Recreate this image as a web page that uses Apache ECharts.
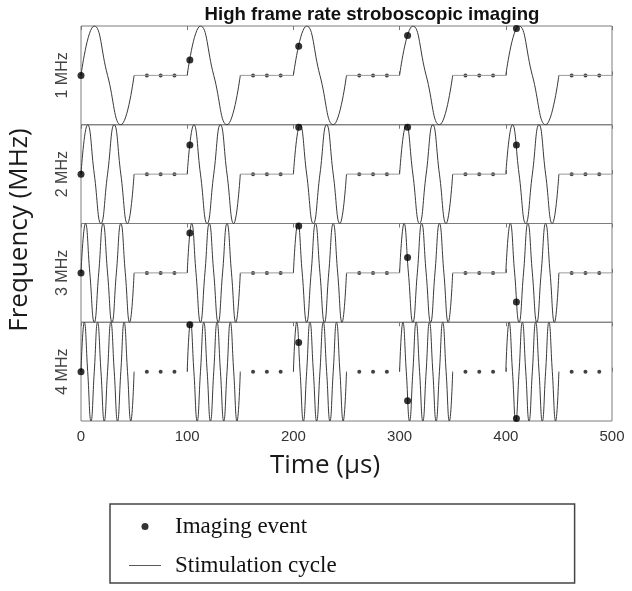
<!DOCTYPE html>
<html>
<head>
<meta charset="utf-8">
<title>High frame rate stroboscopic imaging</title>
<script src="https://cdn.jsdelivr.net/npm/echarts@6/dist/echarts.min.js"></script>
<style>
  html, body { margin: 0; padding: 0; background: #fff; }
  #chart { width: 632px; height: 591px; }
</style>
</head>
<body>
<div id="chart"></div>
<script>
// time axis (µs)
const timeTicks = [0, 100, 200, 300, 400, 500];
const panelLabels = ['1 MHz', '2 MHz', '3 MHz', '4 MHz'];

// stimulation bursts start every 100 µs
const burstStarts = [0, 100, 200, 300, 400];

// one burst per panel: [time offset (µs), amplitude], zero crossings and peaks
const burst1MHz = [[0, 0], [12.5, 1], [25, 0], [37.5, -1], [50, 0]];
const burst2MHz = [[0, 0], [6.25, 1], [12.5, 0], [18.75, -1], [25, 0], [31.25, 1], [37.5, 0], [43.75, -1], [50, 0]];
const burst3MHz = [[0, 0], [4.2, 1], [8.3, 0], [12.5, -1], [16.7, 0], [20.8, 1], [25, 0], [29.2, -1],
  [33.3, 0], [37.5, 1], [41.7, 0], [45.8, -1], [50, 0]];
const burst4MHz = [[0, 0], [3.1, 1], [6.3, 0], [9.4, -1], [12.5, 0], [15.6, 1], [18.8, 0], [21.9, -1],
  [25, 0], [28.1, 1], [31.3, 0], [34.4, -1], [37.5, 0], [40.6, 1], [43.8, 0], [46.9, -1], [50, 0]];

// rest between bursts (offsets from burst start); the 4 MHz panel has none
const restLine = [[50, 0], [100, 0]];
const hasRestLine = [true, true, true, false];
// the "..." marks in each rest period
const ellipsisTimes = [62, 75, 88];

// imaging events (µs) and where they hit each waveform
const eventTimes = [0, 102.5, 205, 307.5, 410];
const events1MHz = [0, 0.31, 0.59, 0.81, 0.95];
const events2MHz = [0, 0.59, 0.95, 0.95, 0.59];
const events3MHz = [0, 0.81, 0.95, 0.31, -0.59];
const events4MHz = [0, 0.95, 0.59, -0.59, -0.95];

const bursts = [burst1MHz, burst2MHz, burst3MHz, burst4MHz];
const events = [events1MHz, events2MHz, events3MHz, events4MHz];

const chart = echarts.init(document.getElementById('chart'));

const panelTop = [26, 124.75, 223.5, 322.25];
const panelHeight = 98.75;
const tickStyle = { show: true, inside: true, length: 4, lineStyle: { color: '#777', width: 1 } };

function repeat(shape) {
  let out = [];
  burstStarts.forEach(s => {
    shape.forEach(p => out.push([s + p[0], p[1]]));
    out.push(['-', '-']);
  });
  return out;
}

let grid = [], xAxis = [], yAxis = [], series = [];
panelLabels.forEach((label, i) => {
  grid.push({
    left: 81, right: 20, top: panelTop[i], height: panelHeight,
    show: true, borderColor: '#7d7d7d', borderWidth: 1
  });
  // bottom axis (labels only on the last panel)
  xAxis.push({
    type: 'value', gridIndex: i, min: timeTicks[0], max: timeTicks[timeTicks.length - 1],
    interval: timeTicks[1] - timeTicks[0],
    axisLine: { show: false }, axisTick: tickStyle, splitLine: { show: false },
    axisLabel: {
      show: i === 3, margin: 8, color: '#333', fontSize: 15, fontFamily: 'Liberation Sans'
    }
  });
  yAxis.push({
    type: 'value', gridIndex: i, min: -1, max: 1,
    name: label, nameLocation: 'middle', nameRotate: 90, nameGap: 10,
    nameTextStyle: { color: '#444', fontSize: 16, fontFamily: 'Liberation Sans' },
    axisLine: { show: false }, axisTick: { show: false }, axisLabel: { show: false },
    splitLine: { show: false }
  });

  series.push({
    name: 'Stimulation cycle', type: 'line', xAxisIndex: i, yAxisIndex: i,
    data: repeat(bursts[i]), smooth: 0.5, symbol: 'none', connectNulls: false,
    lineStyle: { color: '#3a3a3a', width: 1 }, itemStyle: { color: '#5a5a5a' },
    silent: true, animation: false
  });
  if (hasRestLine[i]) {
    series.push({
      name: 'rest', type: 'line', xAxisIndex: i, yAxisIndex: i,
      data: repeat(restLine), symbol: 'none',
      lineStyle: { color: '#9a9a9a', width: 1 }, silent: true, animation: false
    });
  }
  let dots = [];
  burstStarts.forEach(s => ellipsisTimes.forEach(t => dots.push([s + t, 0])));
  series.push({
    name: 'ellipsis', type: 'scatter', xAxisIndex: i, yAxisIndex: i,
    data: dots, symbolSize: 4, itemStyle: { color: '#111' }, silent: true, animation: false
  });
  series.push({
    name: 'Imaging event', type: 'scatter', xAxisIndex: i, yAxisIndex: i,
    data: eventTimes.map((t, k) => [t, events[i][k]]),
    symbolSize: 7, itemStyle: { color: '#000' }, z: 5, animation: false
  });
});

// top axes, just for the inward ticks
panelLabels.forEach((label, i) => {
  xAxis.push({
    type: 'value', gridIndex: i, position: 'top', min: timeTicks[0], max: timeTicks[timeTicks.length - 1],
    interval: timeTicks[1] - timeTicks[0],
    axisLine: { show: false }, axisTick: tickStyle, axisLabel: { show: false }, splitLine: { show: false }
  });
});

chart.setOption({
  backgroundColor: '#fff',
  animation: false,
  grid: grid,
  xAxis: xAxis,
  yAxis: yAxis,
  series: series,
  legend: {
    orient: 'vertical', left: 110, top: 504,
    data: [
      { name: 'Imaging event', icon: 'circle' },
      { name: 'Stimulation cycle', icon: 'path://M0,0L32,0L32,1L0,1Z' }
    ],
    itemWidth: 32, itemHeight: 7, itemGap: 16,
    borderColor: '#444', borderWidth: 1.5, borderRadius: 0,
    padding: [11, 238, 6, 19],
    selectedMode: false,
    textStyle: { fontFamily: 'Liberation Serif', fontSize: 23, color: '#111', padding: [0, 0, 0, 9] }
  },
  graphic: [
    {
      type: 'text', x: 372, y: 15,
      style: {
        text: 'High frame rate stroboscopic imaging', fill: '#111',
        font: 'bold 18.6px "Liberation Sans"', textAlign: 'center', textVerticalAlign: 'middle'
      }
    },
    {
      type: 'text', x: 20, y: 230, rotation: Math.PI / 2,
      style: {
        text: 'Frequency (MHz)', fill: '#1a1a1a',
        font: '26px "Open Sans"', textAlign: 'center', textVerticalAlign: 'middle'
      }
    },
    {
      type: 'text', x: 325, y: 466,
      style: {
        text: 'Time (\u00b5s)', fill: '#1a1a1a',
        font: '26px "Open Sans"', textAlign: 'center', textVerticalAlign: 'middle'
      }
    }
  ]
});
</script>
</body>
</html>
